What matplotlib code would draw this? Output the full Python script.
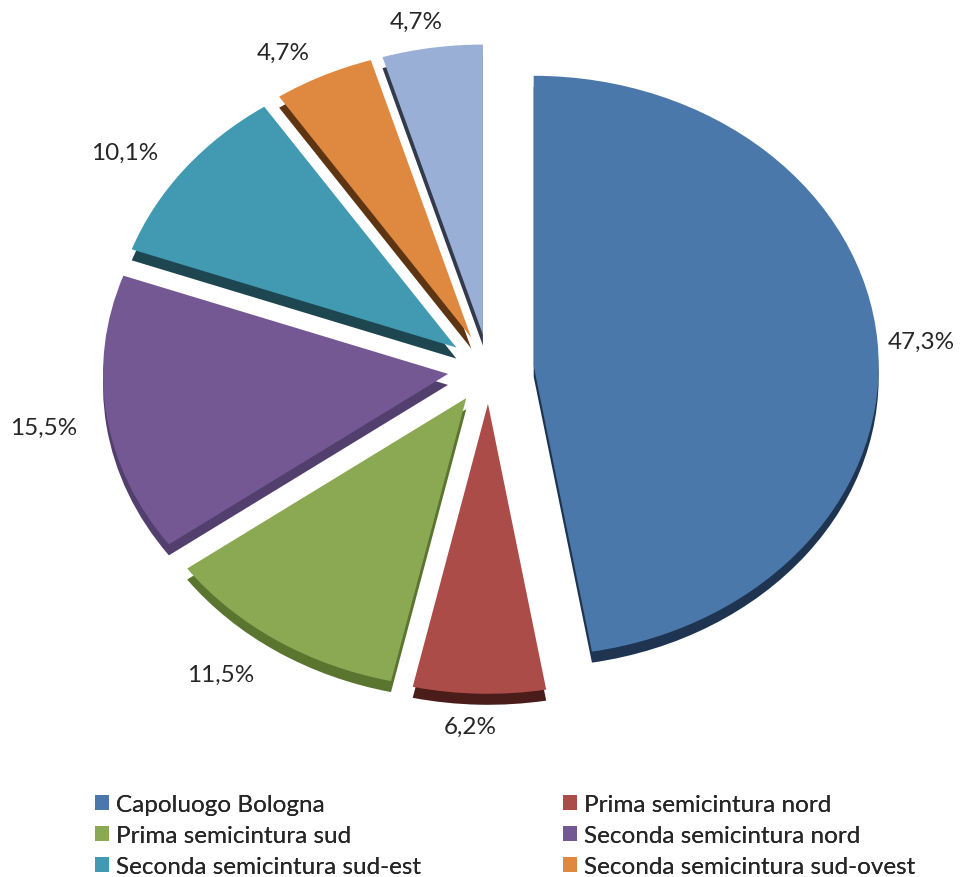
import matplotlib
matplotlib.use("Agg")
import matplotlib.pyplot as plt
import numpy as np

categories = ["Capoluogo Bologna", "Prima semicintura nord", "Prima semicintura sud",
              "Seconda semicintura nord", "Seconda semicintura sud-est",
              "Seconda semicintura sud-ovest", "Altri comuni"]
values = [47.3, 6.2, 11.5, 15.5, 10.1, 4.7, 4.7]
colors = ["#4A78AB", "#AC4C49", "#8BA852", "#735894", "#4299B2", "#DF8840", "#9AAFD5"]
side_colors = ["#1E3450", "#4A1C1A", "#5A7530", "#533F6E", "#1E4650", "#5E3512", "#333A4C"]
explode = [0.13, 0.12, 0.12, 0.12, 0.12, 0.12, 0.12]
label_dist = [1.126, 1.115, 1.19, 1.185, 1.175, 1.126, 1.098]
label_shift = [-0.5, -1.2, -3.4, 0.8, 3.0, 3.6, 1.7]  # degrees

plt.rcParams['font.family'] = ['Lato', 'DejaVu Sans']

W, H = 967, 878
fig = plt.figure(figsize=(W / 100, H / 100), dpi=100)
ax = fig.add_axes([0, 0, 1, 1])

cx, cy, rx, ry = 489, 370, 345, 290
depth = 11 / ry

# side (3D thickness)
ax.pie(values, explode=explode, colors=side_colors, startangle=90, counterclock=False,
       center=(0, -depth), wedgeprops=dict(linewidth=0))
wedges, _ = ax.pie(values, explode=explode, colors=colors, startangle=90, counterclock=False,
                   wedgeprops=dict(linewidth=0))

ax.set_aspect('auto')
ax.set_xlim(-cx / rx, (W - cx) / rx)
ax.set_ylim(-(H - cy) / ry, cy / ry)
ax.axis('off')

for w, v, d, s in zip(wedges, values, label_dist, label_shift):
    tm = np.deg2rad((w.theta1 + w.theta2) / 2 + s)
    x0, y0 = w.center
    ax.text(x0 + d * w.r * np.cos(tm), y0 + d * w.r * np.sin(tm),
            f"{v:.1f}%".replace('.', ','), ha='center', va='center',
            fontsize=17.5, color='#262626')

# legend: row-major order, two columns
for col, x0 in enumerate([95, 563]):
    idx = [col, col + 2, col + 4]
    leg = fig.legend([wedges[i] for i in idx], [categories[i] for i in idx],
                     loc='upper left', bbox_to_anchor=(x0 / W, 1 - 795 / H),
                     frameon=False, fontsize=17.5, handlelength=0.58, handleheight=0.58,
                     handletextpad=0.28, labelspacing=0.42, borderpad=0, borderaxespad=0)
    for t in leg.get_texts():
        t.set_color('#262626')
    fig.add_artist(leg)

fig.savefig("out.png", dpi=100)
